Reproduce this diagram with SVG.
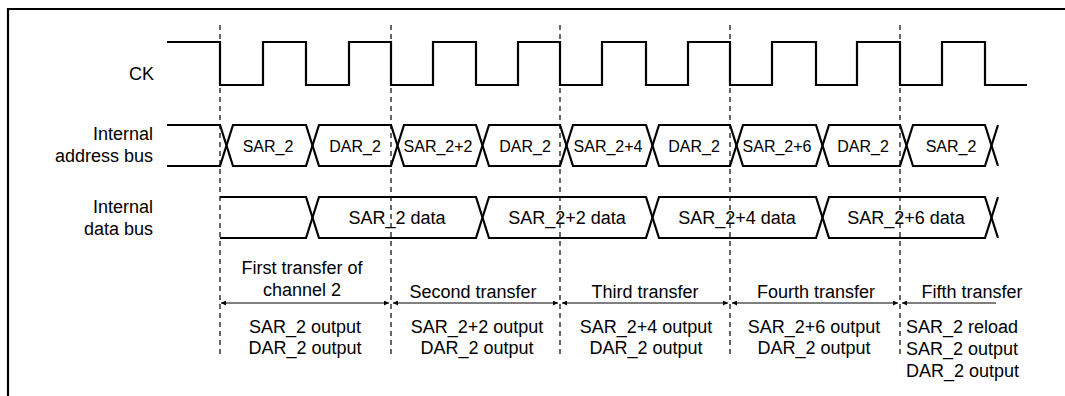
<svg xmlns="http://www.w3.org/2000/svg" width="1065" height="396" viewBox="0 0 1065 396">
<style>
.sig{fill:none;stroke:#000;stroke-width:2.2;stroke-linejoin:miter}
.dash{fill:none;stroke:#000;stroke-width:1.2;stroke-dasharray:5 4}
.arr{fill:none;stroke:#000;stroke-width:1.2}
text{font-family:"Liberation Sans",Arial,sans-serif;font-size:18px;fill:#000}
.r{text-anchor:end}
.m{text-anchor:middle}
.s{font-size:16px;text-anchor:middle}
</style>
<defs>
<marker id="ah" viewBox="0 0 10 10" refX="10" refY="5" markerWidth="9" markerHeight="5" markerUnits="userSpaceOnUse" orient="auto-start-reverse">
<path d="M0,0 L10,5 L0,10 z" fill="#000"/>
</marker>
</defs>
<rect width="1065" height="396" fill="#fff"/>
<path d="M8,396 V9 H1066" fill="none" stroke="#000" stroke-width="2.2"/>

<g id="labels">
<text class="r" x="154" y="80">CK</text>
<text class="r" x="153" y="140">Internal</text>
<text class="r" x="153" y="162">address bus</text>
<text class="r" x="153" y="213">Internal</text>
<text class="r" x="153" y="235">data bus</text>
</g>

<g id="dashed-lines">
<line class="dash" x1="220" y1="25" x2="220" y2="358"/>
<line class="dash" x1="391" y1="25" x2="391" y2="358"/>
<line class="dash" x1="560" y1="25" x2="560" y2="358"/>
<line class="dash" x1="730" y1="25" x2="730" y2="358"/>
<line class="dash" x1="900" y1="25" x2="900" y2="358"/>
</g>

<g id="ck">
<path class="sig" d="M167,42 H220 V85 H263 V42 H306 V85 H349 V42 H391 V85 H433 V42 H476 V85 H518 V42 H560 V85 H602 V42 H646 V85 H688 V42 H730 V85 H772 V42 H816 V85 H857 V42 H900 V85 H942 V42 H985 V85 H1027"/>
</g>

<g id="address-bus">
<path class="sig" d="M167,125 H220 L233,166 H306 L319,125 H391 L404,166 H476 L489,125 H560 L573,166 H646 L659,125 H730 L743,166 H816 L829,125 H900 L913,166 H985 L998,125"/>
<path class="sig" d="M167,166 H220 L233,125 H306 L319,166 H391 L404,125 H476 L489,166 H560 L573,125 H646 L659,166 H730 L743,125 H816 L829,166 H900 L913,125 H985 L998,166"/>
<text class="s" x="268" y="152">SAR_2</text>
<text class="s" x="355" y="152">DAR_2</text>
<text class="s" x="438" y="152">SAR_2+2</text>
<text class="s" x="525" y="152">DAR_2</text>
<text class="s" x="608" y="152">SAR_2+4</text>
<text class="s" x="694" y="152">DAR_2</text>
<text class="s" x="777" y="152">SAR_2+6</text>
<text class="s" x="863" y="152">DAR_2</text>
<text class="s" x="951" y="152">SAR_2</text>
</g>

<g id="data-bus">
<path class="sig" d="M220,197 H306 L319,238 H476 L489,197 H646 L659,238 H816 L829,197 H985 L998,238"/>
<path class="sig" d="M220,238 H306 L319,197 H476 L489,238 H646 L659,197 H816 L829,238 H985 L998,197"/>
<text class="m" x="397" y="224">SAR_2 data</text>
<text class="m" x="567" y="224">SAR_2+2 data</text>
<text class="m" x="737" y="224">SAR_2+4 data</text>
<text class="m" x="906" y="224">SAR_2+6 data</text>
</g>

<g id="connectors">
<line class="arr" x1="221" y1="303" x2="389" y2="303" marker-start="url(#ah)" marker-end="url(#ah)"/>
<line class="arr" x1="393" y1="303" x2="558" y2="303" marker-start="url(#ah)" marker-end="url(#ah)"/>
<line class="arr" x1="562" y1="303" x2="728" y2="303" marker-start="url(#ah)" marker-end="url(#ah)"/>
<line class="arr" x1="732" y1="303" x2="898" y2="303" marker-start="url(#ah)" marker-end="url(#ah)"/>
<line class="arr" x1="902" y1="303" x2="996" y2="303" marker-start="url(#ah)"/>
</g>

<g id="transfer-1">
<text class="m" x="302" y="274">First transfer of</text>
<text class="m" x="302" y="296">channel 2</text>
<text class="m" x="305" y="333">SAR_2 output</text>
<text class="m" x="305" y="354">DAR_2 output</text>
</g>
<g id="transfer-2">
<text class="m" x="473" y="298">Second transfer</text>
<text class="m" x="477" y="333">SAR_2+2 output</text>
<text class="m" x="477" y="354">DAR_2 output</text>
</g>
<g id="transfer-3">
<text class="m" x="645" y="298">Third transfer</text>
<text class="m" x="646" y="333">SAR_2+4 output</text>
<text class="m" x="646" y="354">DAR_2 output</text>
</g>
<g id="transfer-4">
<text class="m" x="816" y="298">Fourth transfer</text>
<text class="m" x="814" y="333">SAR_2+6 output</text>
<text class="m" x="814" y="354">DAR_2 output</text>
</g>
<g id="transfer-5">
<text class="m" x="972" y="298">Fifth transfer</text>
<text x="906" y="333">SAR_2 reload</text>
<text x="906" y="355">SAR_2 output</text>
<text x="906" y="377">DAR_2 output</text>
</g>
</svg>
